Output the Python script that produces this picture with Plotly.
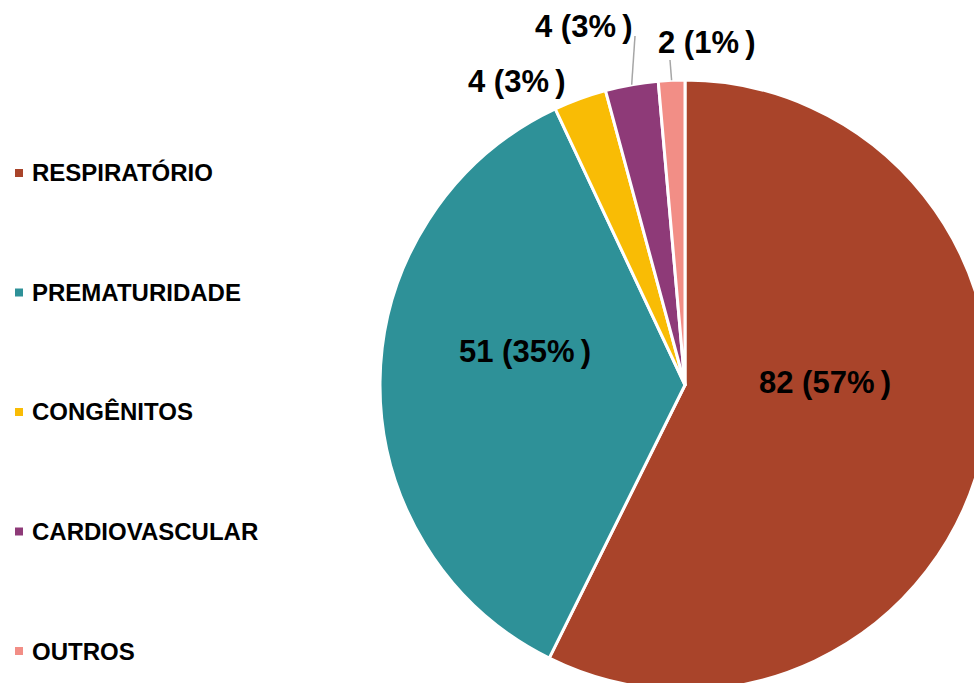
import math
import plotly.graph_objects as go

# ---- data ----
categories = ["RESPIRATÓRIO", "PREMATURIDADE", "CONGÊNITOS", "CARDIOVASCULAR", "OUTROS"]
values = [82, 51, 4, 4, 2]
percent_labels = [57, 35, 3, 3, 1]
colors = ["#A9442A", "#2E9198", "#F9BC05", "#8E3A78", "#F28E86"]

# ---- canvas (slightly larger than the window so the pie is cropped like the reference) ----
W, H = 1000, 700
CX, CY, R = 685, 385, 305

def px(x):
    return x / W

def py(y):
    return 1 - y / H

FONT = "Arial, 'Liberation Sans', sans-serif"

fig = go.Figure(go.Pie(
    labels=categories,
    values=values,
    sort=False,
    direction="clockwise",
    rotation=0,
    marker=dict(colors=colors, line=dict(color="white", width=3)),
    textinfo="none",
    hoverinfo="label+value+percent",
    showlegend=False,
    domain=dict(x=[px(CX - R), px(CX + R)], y=[py(CY + R), py(CY - R)]),
))

texts = [f"{v} ({p}%\u2009)" for v, p in zip(values, percent_labels)]

annotations = []
shapes = []

# label text positions (pixels)
label_pos = [(825, 382), (525, 351), (517, 82), (584, 26), (707, 43)]
for t, (x, y) in zip(texts, label_pos):
    annotations.append(dict(
        x=px(x), y=py(y), xref="paper", yref="paper", text=t, showarrow=False,
        xanchor="center", yanchor="middle",
        font=dict(family=FONT, size=31, color="black", weight="bold"),
    ))

# leader lines for two small slices, starting at the slice's mid-angle on the rim
total = sum(values)
cum = 0
mids = []
for v in values:
    mids.append((cum + v / 2) / total * 2 * math.pi)
    cum += v
leader_ends = {3: (635, 36), 4: (670, 60)}
for i, (ex, ey) in leader_ends.items():
    a = mids[i]
    sx = CX + R * math.sin(a)
    sy = CY - R * math.cos(a)
    shapes.append(dict(type="line", xref="paper", yref="paper",
                       x0=px(sx), y0=py(sy), x1=px(ex), y1=py(ey),
                       line=dict(color="#A6A6A6", width=1.5)))

# custom legend
leg_top, leg_gap = 173, 119.5
for i, (c, col) in enumerate(zip(categories, colors)):
    yc = leg_top + i * leg_gap
    shapes.append(dict(type="rect", xref="paper", yref="paper",
                       x0=px(15), x1=px(23), y0=py(yc - 4), y1=py(yc + 4),
                       fillcolor=col, line=dict(width=0)))
    annotations.append(dict(
        x=px(30), y=py(yc), xref="paper", yref="paper", text=c, showarrow=False,
        xanchor="left", yanchor="middle",
        font=dict(family=FONT, size=24, color="black", weight="bold"),
    ))

fig.update_layout(
    width=W, height=H,
    margin=dict(l=0, r=0, t=0, b=0),
    paper_bgcolor="white", plot_bgcolor="white",
    annotations=annotations, shapes=shapes,
)

fig.write_html(
    "out.html",
    config={"displayModeBar": False},
    post_script="document.body.style.margin='0';document.body.style.overflow='hidden';"
                "document.documentElement.style.overflow='hidden';",
)
